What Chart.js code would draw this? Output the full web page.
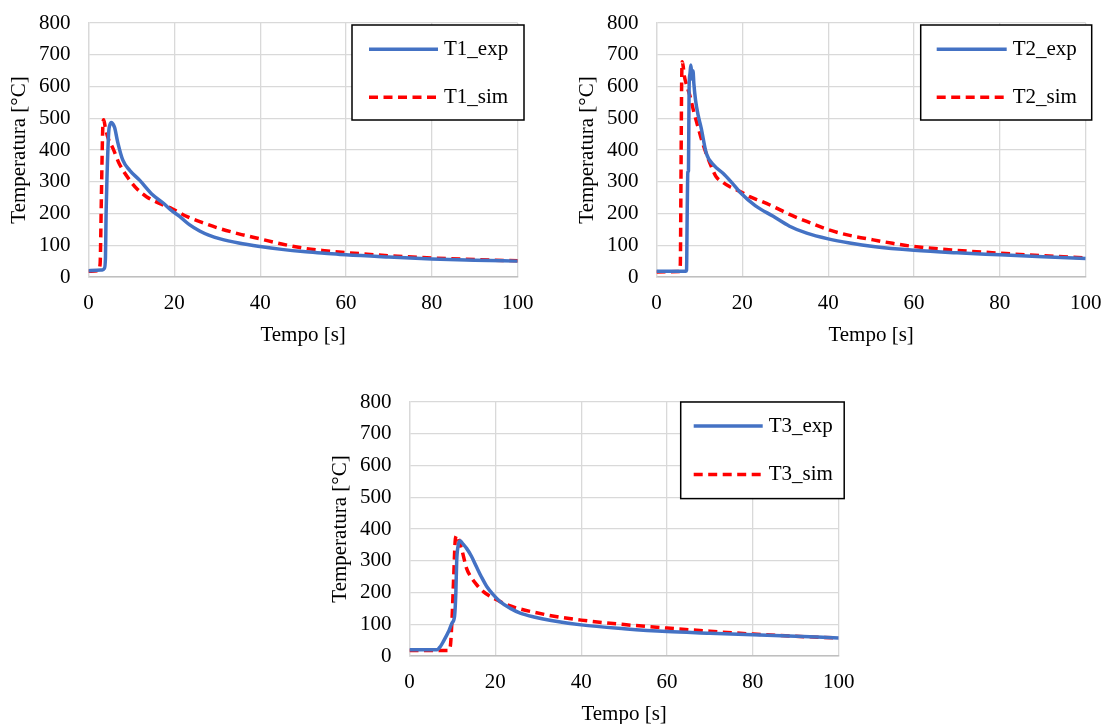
<!DOCTYPE html>
<html>
<head>
<meta charset="utf-8">
<script src="https://cdn.jsdelivr.net/npm/chart.js@4.4.1/dist/chart.umd.min.js"></script>
<style>
  html, body { margin: 0; padding: 0; background: #fff; overflow: hidden; width: 1104px; height: 724px; }
  canvas { position: absolute; }
  #c1 { left: 0; top: 0; }
  #c2 { left: 568px; top: 0; }
  #c3 { left: 321px; top: 379px; }
</style>
</head>
<body>
<canvas id="c1" width="540" height="352"></canvas>
<canvas id="c2" width="540" height="352"></canvas>
<canvas id="c3" width="540" height="352"></canvas>
<script>
// DATA
const xTicks = [0, 20, 40, 60, 80, 100];
const yTicks = [0, 100, 200, 300, 400, 500, 600, 700, 800];

const t1ExpTime = [0, 3.2, 3.7, 3.95, 4.1, 4.3, 4.7, 5.0, 5.3, 5.7, 6.1, 6.8, 8.0, 9.6, 11.9, 15.0, 17.4, 19.1, 21.3, 23.5, 25.9, 28, 30.7, 35, 40, 45, 50, 55, 60, 70, 80, 90, 100];
const t1ExpTemp = [20, 22, 27, 60, 200, 310, 455, 480, 487, 482, 470, 425, 368, 336, 305, 258, 233, 212, 190, 165, 145, 132, 120, 107, 96, 87, 80, 75, 70, 63, 57, 53, 50];
const t1SimTime = [0, 2.2, 2.7, 3.0, 3.3, 3.55, 3.9, 4.5, 5.7, 7.2, 9.6, 11.5, 13.5, 16.5, 19.5, 23, 26.8, 30, 35, 40, 45, 50, 55, 60, 70, 80, 90, 100];
const t1SimTemp = [18, 20, 40, 250, 460, 495, 472, 440, 405, 356, 305, 275, 253, 232, 215, 190, 170, 155, 136, 120, 104, 91, 83, 77, 67, 60, 55, 51];

const t2ExpTime = [0, 6.8, 7.0, 7.15, 7.3, 7.45, 7.6, 7.8, 8.0, 8.2, 8.35, 8.5, 8.7, 9.1, 9.7, 10.4, 11.6, 13.5, 15.5, 17.5, 19.4, 23, 27.2, 31, 35, 40, 45, 50.5, 60, 70, 80, 90, 100];
const t2ExpTemp = [18, 18, 22, 200, 330, 335, 600, 640, 668, 640, 622, 650, 610, 557, 510, 470, 390, 350, 327, 298, 268, 225, 191, 160, 138, 120, 107, 96, 84, 76, 70, 64, 58];
const t2SimTime = [0, 5.3, 5.55, 5.7, 5.85, 6.0, 6.2, 6.5, 7.0, 7.7, 8.7, 9.7, 10.6, 11.6, 12.7, 13.9, 15.5, 17.1, 19.4, 21.7, 24.5, 27.2, 31, 35, 40, 45, 50.5, 55, 60, 70, 80, 90, 100];
const t2SimTemp = [16, 17, 40, 300, 600, 678, 665, 632, 605, 575, 520, 471, 428, 388, 350, 316, 298, 284, 270, 253, 238, 222, 197, 175, 149, 131, 117, 106, 96, 84, 75, 67, 60];

const t3ExpTime = [0, 6.4, 7.2, 7.9, 9.1, 9.9, 10.5, 10.8, 11.0, 11.3, 11.8, 12.5, 13.3, 14.4, 15.6, 16.8, 18.0, 19.5, 21.1, 23.5, 25.8, 29, 33, 40, 50, 60, 70, 80, 90, 100];
const t3ExpTemp = [20, 20, 30, 46, 77, 104, 125, 200, 300, 345, 363, 352, 339, 315, 281, 248, 219, 193, 171, 150, 135, 123, 112, 98, 86, 77, 72, 67, 62, 57];
const t3SimTime = [0, 9.0, 9.5, 9.9, 10.3, 10.7, 11.1, 11.6, 12.2, 13.3, 14.5, 15.8, 17.2, 18.7, 20.3, 23, 25.8, 29, 33, 40, 50, 60, 70, 80, 90, 100];
const t3SimTemp = [17, 17, 30, 114, 250, 370, 380, 360, 334, 276, 245, 222, 203, 189, 177, 160, 148, 138, 127, 113, 99, 88, 78, 69, 62, 57];

// STYLE
const BLUE = '#4472C4';
const RED = '#FF0000';
const FONT = '"Liberation Serif", "Times New Roman", serif';

Chart.defaults.font.family = FONT;
Chart.defaults.font.size = 21;
Chart.defaults.color = '#000';

const pts = (xs, ys) => xs.map((x, i) => ({ x: x, y: ys[i] }));

// legend box drawn inside the plot, like the spreadsheet one
const boxLegend = {
  id: 'boxLegend',
  afterDraw(chart, args, o) {
    const { ctx, chartArea } = chart;
    const x = chartArea.right + o.dx;
    const y = chartArea.top + o.dy;
    ctx.save();
    ctx.fillStyle = '#fff';
    ctx.fillRect(x, y, o.w, o.h);
    ctx.strokeStyle = '#000';
    ctx.lineWidth = 1.5;
    ctx.strokeRect(x, y, o.w, o.h);
    chart.data.datasets.forEach((ds, i) => {
      const ly = y + o.rows[i];
      ctx.strokeStyle = ds.borderColor;
      ctx.lineWidth = ds.borderWidth;
      ctx.setLineDash(ds.borderDash || []);
      ctx.beginPath();
      ctx.moveTo(x + o.lineX0, ly);
      ctx.lineTo(x + o.lineX1, ly);
      ctx.stroke();
      ctx.setLineDash([]);
      ctx.fillStyle = '#000';
      ctx.font = '21px ' + FONT;
      ctx.textBaseline = 'middle';
      ctx.fillText(ds.label, x + o.textX, ly);
    });
    ctx.restore();
  }
};

function makeChart(id, expLabel, expX, expY, simLabel, simX, simY, legend) {
  return new Chart(document.getElementById(id), {
    type: 'scatter',
    data: {
      datasets: [
        { label: expLabel, data: pts(expX, expY), showLine: true, borderColor: BLUE, borderWidth: 3.5,
          pointRadius: 0, cubicInterpolationMode: 'monotone' },
        { label: simLabel, data: pts(simX, simY), showLine: true, borderColor: RED, borderWidth: 3.5,
          borderDash: [9, 5.5], pointRadius: 0, cubicInterpolationMode: 'monotone' }
      ]
    },
    options: {
      responsive: false,
      animation: false,
      layout: { padding: { top: 23, right: 22.3, bottom: 0, left: 0 } },
      plugins: { legend: { display: false }, tooltip: { enabled: false }, boxLegend: legend },
      scales: {
        x: {
          type: 'linear', min: 0, max: 100,
          afterBuildTicks: s => { s.ticks = xTicks.map(v => ({ value: v })); },
          ticks: { padding: 14, color: '#000' },
          grid: { color: '#d9d9d9', lineWidth: 1.3, drawTicks: false },
          border: { color: '#bfbfbf', width: 1.5 },
          title: { display: true, text: 'Tempo [s]', color: '#000', padding: { top: 0, bottom: 4 } },
          // fixed axis box, label overhang handled by layout padding
          afterFit: s => { s.height = 75; s.paddingLeft = 0; s.paddingRight = 0; }
        },
        y: {
          min: 0, max: 800,
          afterBuildTicks: s => { s.ticks = yTicks.map(v => ({ value: v })); },
          ticks: { padding: 18, color: '#000' },
          grid: { color: '#d9d9d9', lineWidth: 1.3, drawTicks: false },
          border: { color: '#d9d9d9', width: 1.3 },
          title: { display: true, text: 'Temperatura [°C]', color: '#000', padding: { top: 7, bottom: 0 } },
          afterFit: s => { s.width = 88.5; s.paddingTop = 0; s.paddingBottom = 0; }
        }
      }
    },
    plugins: [boxLegend]
  });
}

makeChart('c1', 'T1_exp', t1ExpTime, t1ExpTemp, 'T1_sim', t1SimTime, t1SimTemp,
  { dx: -165.7, dy: 2, w: 172, h: 95, rows: [24.3, 72.3], lineX0: 17, lineX1: 86, textX: 92 });
makeChart('c2', 'T2_exp', t2ExpTime, t2ExpTemp, 'T2_sim', t2SimTime, t2SimTemp,
  { dx: -165, dy: 2, w: 171, h: 95, rows: [24.3, 72.3], lineX0: 16, lineX1: 86, textX: 92 });
makeChart('c3', 'T3_exp', t3ExpTime, t3ExpTemp, 'T3_sim', t3SimTime, t3SimTemp,
  { dx: -158, dy: 0, w: 163.5, h: 96.6, rows: [24, 72.6], lineX0: 13, lineX1: 82, textX: 88 });
</script>
</body>
</html>
